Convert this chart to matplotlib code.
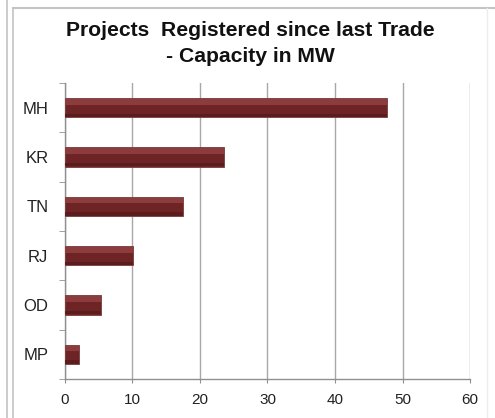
import matplotlib.pyplot as plt
from matplotlib.lines import Line2D
import numpy as np

# ----------------------------
# Data
# ----------------------------
states = ["MP", "OD", "RJ", "TN", "KR", "MH"]
capacity_mw = [2.1, 5.3, 10.1, 17.5, 23.6, 47.7]
x_ticks = [0, 10, 20, 30, 40, 50, 60]

plt.rcParams["font.family"] = ["Liberation Sans", "DejaVu Sans"]

fig = plt.figure(figsize=(4.95, 4.18), dpi=100)
fig.patch.set_facecolor("white")
ax = fig.add_axes([0.1313, 0.0933, 0.8182, 0.7081])

# ----------------------------
# Outer frame lines
# ----------------------------
frame_col = "#c4c4c4"
fig.add_artist(Line2D([7 / 495, 7 / 495], [0, 1], color=frame_col, lw=1.2))
fig.add_artist(Line2D([13 / 495, 13 / 495], [0, 1 - 8 / 418], color=frame_col, lw=1.2))
fig.add_artist(Line2D([13 / 495, 1], [1 - 8 / 418, 1 - 8 / 418], color=frame_col, lw=1.5))
fig.add_artist(Line2D([487 / 495, 487 / 495], [0, 1 - 8 / 418], color="#ececec", lw=1))

# ----------------------------
# Bars with a simple bevel look
# ----------------------------
y = np.arange(len(states))
h = 0.39
ax.barh(y, capacity_mw, height=h, color="#6e2424", edgecolor="#7a3a3a",
        linewidth=0.6, zorder=3)
# light top band
ax.barh(y + h * 0.3, capacity_mw, height=h * 0.3, color="#8c3c3c",
        linewidth=0, zorder=4)
# darker bottom edge
ax.barh(y - h * 0.4, capacity_mw, height=h * 0.16, color="#5a1c1c",
        linewidth=0, zorder=4)

# ----------------------------
# Axes styling
# ----------------------------
ax.set_xlim(0, 60)
ax.set_ylim(-0.5, len(states) - 0.5)
ax.set_xticks(x_ticks)
ax.set_xticklabels([str(t) for t in x_ticks], fontsize=11, color="#222222")
ax.set_yticks(y)
ax.set_yticklabels(states, fontsize=12, color="#222222")
ax.set_yticks(np.arange(len(states) + 1) - 0.5, minor=True)
ax.tick_params(axis="y", which="major", length=0, pad=12)
ax.tick_params(axis="y", which="minor", length=4, color="#909090", direction="out")
ax.tick_params(axis="x", length=3, color="#909090", pad=7)

ax.grid(axis="x", color="#a8a8a8", linewidth=1, zorder=0)
ax.set_axisbelow(True)
for s in ["top", "right"]:
    ax.spines[s].set_visible(False)
for s in ["left", "bottom"]:
    ax.spines[s].set_color("#909090")
    ax.spines[s].set_linewidth(1)

# ----------------------------
# Title (two lines)
# ----------------------------
fig.text(0.505, 1 - 30 / 418, "Projects  Registered since last Trade",
         ha="center", va="center", fontsize=15.2, fontweight="bold", color="#111111")
fig.text(0.505, 1 - 57 / 418, "- Capacity in MW",
         ha="center", va="center", fontsize=15.2, fontweight="bold", color="#111111")

fig.savefig("out.png", dpi=100)
